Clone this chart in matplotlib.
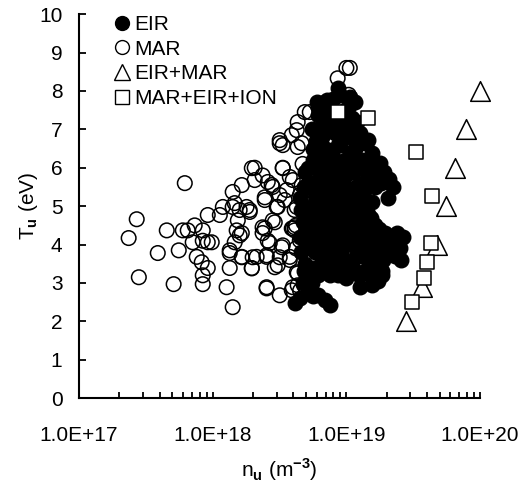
import numpy as np
import matplotlib
matplotlib.use("Agg")
import matplotlib.pyplot as plt
from matplotlib.lines import Line2D
from matplotlib.ticker import FixedLocator, NullFormatter

plt.rcParams['font.family'] = ['Liberation Sans', 'DejaVu Sans']
plt.rcParams['mathtext.fontset'] = 'custom'
plt.rcParams['mathtext.rm'] = 'Liberation Sans'
plt.rcParams['mathtext.bf'] = 'Liberation Sans:bold'

# --- data: upstream density (units of 1e18 m^-3) and temperature (eV) ---
mar_n = [0.235, 0.27, 0.28, 0.388, 0.453, 0.51, 0.557, 0.618, 0.597, 0.65, 0.733, 0.842,
         0.708, 0.842, 0.918, 0.983, 0.759, 0.827, 0.918, 0.842, 0.842, 0.918, 1.13, 1.19,
         1.41, 1.41, 1.59, 1.89, 1.54, 1.51, 1.65, 1.46, 1.34, 1.65, 1.34, 1.27, 1.41, 1.96,
         2.13, 1.96, 2.06, 2.36, 2.45, 2.58, 2.81, 2.45, 2.36, 2.58, 2.53, 2.53, 2.91, 3.06,
         3.17, 3.34, 3.17, 3.28, 3.06, 3.17, 3.77, 3.97, 3.77, 3.97, 4.1,
         10.0, 10.6, 8.6, 5.32, 4.88, 4.32, 4.25, 3.9, 3.17, 3.34, 4.32, 4.63, 8.9, 2.06,
         3.34, 2.76, 3.58, 3.97, 4.63, 3.45, 4.25, 3.01, 2.45, 1.65, 1.46, 1.79, 1.89, 2.81,
         2.36, 3.9, 4.1, 1.59, 5.32, 2.67, 3.34, 4.48, 1.34, 1.65, 1.99, 2.53, 3.17, 3.77,
         1.96, 2.91, 4.25, 4.32, 2.53, 3.9, 4.32, 4.1, 4.2, 4.5, 4.7, 4.2, 4.8, 4.5, 10.4]
mar_T = [4.17, 4.66, 3.15, 3.78, 4.37, 2.97, 3.85, 5.6, 4.37, 4.37, 4.5, 4.37,
         4.06, 4.1, 4.06, 4.06, 3.68, 3.54, 3.39, 3.2, 2.97, 4.77, 4.77, 4.98,
         5.37, 4.98, 4.9, 4.9, 4.63, 4.37, 4.3, 4.06, 3.78, 3.68, 3.39, 2.89, 2.37, 3.39,
         3.68, 5.99, 5.68, 5.8, 5.16, 5.63, 5.5, 4.42, 4.3, 4.1, 3.68, 2.89, 4.58, 4.98,
         5.29, 5.99, 6.64, 3.93, 3.46, 2.68, 5.76, 4.42, 3.68, 2.89, 4.9,
         8.6, 8.6, 8.33, 7.45, 7.45, 7.19, 6.98, 6.85, 6.72, 6.59, 6.54, 6.64, 7.03, 6.0,
         6.0, 5.55, 5.42, 5.68, 5.55, 5.16, 4.98, 4.98, 5.23, 5.55, 5.08, 4.98, 4.85, 4.63,
         4.45, 4.42, 4.37, 4.24, 4.5, 4.04, 3.98, 4.11, 3.85, 3.67, 3.67, 3.72, 3.67, 3.6,
         3.38, 3.41, 3.28, 3.25, 2.86, 2.81, 2.94, 4.45, 4.5, 5.3, 6.1, 3.9, 2.95, 2.8, 7.9]

eir_n = [8.6, 9.0, 10.6, 11.5, 6.6, 6.1, 7.2, 6.1, 9.7, 11.0, 11.0, 5.8, 9.4, 7.0, 12.0,
         13.7, 14.4, 10.6, 17.7, 5.6, 6.1, 8.2, 13.0, 15.5, 19.5, 17.1, 7.5, 8.2, 6.6, 9.0,
         12.6, 7.5,
         4.9, 5.5, 6.3, 7.2, 8.6, 9.7, 11.0, 12.6, 14.4, 16.3, 22.2, 20.3,
         4.48, 5.1, 5.8, 6.6, 7.5, 8.6, 9.7, 11.0, 12.6, 14.4, 15.5, 4.7, 5.5, 6.6, 7.8,
         9.0, 10.6, 12.1, 14.0, 16.3,
         4.48, 5.3, 6.1, 7.2, 8.6, 10.0, 11.5, 13.7, 16.3, 19.3, 22.2, 25.0, 26.4, 23.0,
         20.3, 17.1, 14.4, 12.1, 10.0, 8.2, 6.9, 5.8, 4.9,
         5.1, 6.1, 7.2, 8.6, 9.7, 11.5, 13.7, 16.3, 18.4,
         18.4, 17.1, 15.5, 12.6, 5.3, 7.5, 10.0,
         4.1, 4.48, 5.13, 5.6, 6.1, 6.9, 7.5,
         5.2, 6.0, 6.8, 7.9, 9.0, 10.3, 11.8, 13.5, 15.0, 18.0, 19.0, 21.0,
         5.0, 6.2, 7.0, 8.2, 9.5, 11.3, 13.0, 15.2, 17.5, 18.5, 21.0, 24.0,
         5.0, 6.4, 7.6, 9.1, 11.0, 13.0, 15.5, 18.8, 21.5, 25.5,
         5.6, 6.6, 8.0, 10.5, 12.5, 15.0,
         5.6, 6.4, 7.8, 8.6, 9.8, 11.5, 12.5, 14.0, 15.8, 16.5,
         6.8, 7.8, 8.6, 9.5, 10.2, 12.0, 10.5, 8.0,
         5.2, 4.8, 4.6, 4.6, 4.8, 4.7, 5.5,
         6.0, 7.0, 7.5, 8.5, 9.5, 10.0, 11.0, 7.8, 8.8, 6.9, 5.9, 6.3, 10.3, 11.5,
         12.5, 13.5, 6.5, 7.8, 9.5, 10.5, 12.0, 8.5, 9.5, 6.0, 5.5, 5.2, 5.4, 5.5,
         6.0, 7.5]
eir_T = [8.07, 7.9, 7.84, 7.7, 7.68, 7.58, 7.76, 7.37, 7.5, 7.3, 7.15, 6.98, 6.85, 6.5, 6.67,
         6.64, 6.72, 6.38, 6.12, 6.2, 6.33, 6.2, 6.2, 6.38, 5.68, 5.86, 7.1, 6.9, 6.8, 6.6,
         6.9, 6.0,
         5.9, 5.6, 5.8, 5.5, 5.8, 5.5, 5.9, 5.6, 5.9, 5.5, 5.5, 5.2,
         5.2, 4.9, 5.3, 5.0, 5.2, 4.9, 5.3, 5.0, 5.2, 4.8, 5.1, 4.6, 4.5, 4.7, 4.5,
         4.6, 4.4, 4.6, 4.4, 4.5,
         4.2, 4.0, 4.3, 4.1, 4.2, 4.0, 4.3, 4.1, 4.2, 4.3, 4.1, 3.9, 4.2, 3.7,
         3.9, 3.8, 3.6, 3.8, 3.6, 3.7, 3.6, 3.8, 3.5,
         3.3, 3.2, 3.3, 3.2, 3.4, 3.3, 3.3, 3.4, 3.3,
         3.2, 3.05, 2.95, 2.89, 3.26, 3.2, 3.13,
         2.47, 2.6, 2.73, 2.65, 2.68, 2.55, 2.42,
         5.6, 5.1, 5.4, 5.0, 5.6, 5.2, 5.5, 5.0, 5.7, 5.6, 5.9, 5.7,
         4.4, 4.8, 4.4, 4.8, 4.2, 4.8, 4.7, 4.7, 4.4, 4.0, 4.2, 4.3,
         3.9, 3.7, 3.9, 3.9, 3.5, 3.7, 3.9, 3.6, 3.9, 3.6,
         3.4, 3.5, 3.4, 3.3, 3.2, 3.2,
         6.5, 6.1, 6.4, 6.6, 6.2, 6.5, 6.0, 6.0, 6.1, 5.8,
         7.3, 7.5, 7.2, 7.1, 6.8, 7.2, 7.6, 7.8,
         6.0, 5.5, 4.9, 3.8, 3.3, 3.0, 3.0,
         5.5, 5.0, 5.7, 5.3, 5.0, 5.8, 5.4, 6.1, 6.1, 6.3, 6.7, 7.0, 6.1, 6.0,
         5.3, 5.4, 4.0, 4.3, 4.5, 4.7, 4.1, 3.6, 3.3, 3.9, 4.2, 4.7, 5.0, 7.0,
         7.7, 7.2]

eirmar_n = [100, 79, 65, 56, 48, 37, 28]
eirmar_T = [8.0, 7.0, 6.0, 5.0, 4.0, 2.9, 2.0]

all_n = [8.7, 14.5, 33, 44, 43, 40, 38, 31]
all_T = [7.45, 7.3, 6.4, 5.26, 4.04, 3.54, 3.13, 2.5]

scale = 1e18

fig = plt.figure(figsize=(5.27, 4.88), dpi=100)
ax = fig.add_axes([0.150, 0.184, 0.761, 0.787])

ax.scatter(np.array(mar_n) * scale, mar_T, s=110, facecolors='none',
           edgecolors='black', linewidths=1.1, zorder=2)
ax.scatter(np.array(eir_n) * scale, eir_T, s=110, facecolors='black',
           edgecolors='black', linewidths=1.0, zorder=3)
ax.scatter(np.array(eirmar_n) * scale, eirmar_T, s=200, marker='^',
           facecolors='white', edgecolors='black', linewidths=1.1, zorder=4,
           clip_on=False)
ax.scatter(np.array(all_n) * scale, all_T, s=115, marker='s',
           facecolors='white', edgecolors='black', linewidths=1.1, zorder=5)

ax.set_xscale('log')
ax.set_xlim(1e17, 1e20)
ax.set_ylim(0, 10)
ax.set_yticks(range(0, 11))
decades = [1e17, 1e18, 1e19, 1e20]
ax.xaxis.set_major_locator(FixedLocator(decades))
ax.xaxis.set_minor_locator(FixedLocator([m * d for d in decades[:-1] for m in range(2, 10)]))
ax.xaxis.set_minor_formatter(NullFormatter())
ax.set_xticklabels(['1.0E+17', '1.0E+18', '1.0E+19', '1.0E+20'])

for s in ['top', 'right']:
    ax.spines[s].set_visible(False)
for s in ['left', 'bottom']:
    ax.spines[s].set_linewidth(1.5)

ax.tick_params(axis='y', direction='in', length=5, width=1.3, labelsize=15, pad=12)
ax.tick_params(axis='x', which='major', direction='in', length=4.5, width=1.3,
               labelsize=15, pad=20)
ax.tick_params(axis='x', which='minor', direction='in', length=4.5, width=1.3)

ax.set_xlabel(r'n$_\mathbf{u}$ (m$^{\mathbf{-3}}$)', fontsize=15, labelpad=8)
ax.set_ylabel(r'T$_\mathbf{u}$ (eV)', fontsize=15, labelpad=-1)

handles = [
    Line2D([], [], ls='none', marker='o', ms=10, mfc='black', mec='black'),
    Line2D([], [], ls='none', marker='o', ms=10, mfc='none', mec='black', mew=1.0),
    Line2D([], [], ls='none', marker='^', ms=11, mfc='none', mec='black', mew=1.0),
    Line2D([], [], ls='none', marker='s', ms=10, mfc='none', mec='black', mew=1.0),
]
ax.legend(handles, ['EIR', 'MAR', 'EIR+MAR', 'MAR+EIR+ION'], loc='upper left',
          bbox_to_anchor=(0.06, 1.02), frameon=False, fontsize=15,
          handletextpad=0.1, labelspacing=0.28, handlelength=1.0, borderaxespad=0)

fig.savefig('out.png', dpi=100)
